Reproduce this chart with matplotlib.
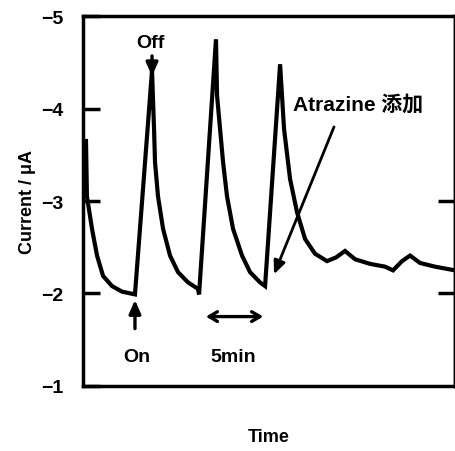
import matplotlib
matplotlib.use('Agg')
import matplotlib.pyplot as plt

# Datos (tiempo en min, corriente en uA)
tiempo = [0.25, 0.33, 0.75, 1.17, 1.67, 2.42, 3.25, 4.33,
          5.75, 5.92, 6.0, 6.25, 6.67, 7.25, 7.92, 8.75, 9.58, 9.67,
          11.08, 11.17, 11.67, 12.0, 12.5, 13.25, 13.92, 14.75, 15.17,
          16.42, 16.75, 17.25, 17.83, 18.5, 19.33, 20.33, 21.08, 21.83,
          22.67, 23.92, 25.17, 25.83, 26.58, 27.25, 28.08, 29.33, 31.0]
corriente = [-3.65, -3.05, -2.70, -2.41, -2.19, -2.08, -2.02, -1.99,
             -4.41, -3.78, -3.42, -3.05, -2.70, -2.41, -2.23, -2.12, -2.05, -1.99,
             -4.75, -4.14, -3.42, -3.05, -2.70, -2.41, -2.23, -2.12, -2.08,
             -4.48, -3.78, -3.24, -2.88, -2.59, -2.43, -2.35, -2.39, -2.46,
             -2.37, -2.32, -2.29, -2.25, -2.35, -2.41, -2.33, -2.29, -2.25]

yticks = [-5, -4, -3, -2, -1]

plt.rcParams['font.family'] = ['Liberation Sans', 'Noto Sans CJK JP', 'DejaVu Sans']
plt.rcParams['font.weight'] = 'bold'
plt.rcParams['axes.labelweight'] = 'bold'

fig = plt.figure(figsize=(4.56, 4.52), dpi=100)
ax = fig.add_axes([0.182, 0.144, 0.816, 0.818])

ax.plot(tiempo, corriente, 'k-', lw=3.0, solid_joinstyle='miter')

ax.set_xlim(0, 31)
ax.set_ylim(-1, -5)
ax.set_xticks([])
ax.set_yticks(yticks)
ax.tick_params(axis='y', direction='in', length=12, width=2.5, pad=14, labelsize=14)
for s in ax.spines.values():
    s.set_linewidth(2.5)

# ticks del lado derecho
sec = ax.secondary_yaxis('right')
sec.set_yticks([-3, -2])
sec.tick_params(direction='in', length=12, width=2.5, labelright=False)
sec.spines['right'].set_linewidth(2.5)

ax.set_ylabel('Current / μA', fontsize=13, labelpad=4)
ax.set_xlabel('Time', fontsize=13, labelpad=30)

flecha = dict(arrowstyle='-|>,head_length=0.8,head_width=0.35', color='k', lw=2.4)
ax.annotate('', xy=(5.75, -4.32), xytext=(5.75, -4.6), arrowprops=flecha)
ax.text(5.6, -4.71, 'Off', fontsize=14, ha='center', va='center')

ax.annotate('', xy=(4.33, -1.96), xytext=(4.33, -1.59), arrowprops=flecha)
ax.text(4.5, -1.32, 'On', fontsize=14, ha='center', va='center')

ax.annotate('', xy=(10.0, -1.75), xytext=(15.25, -1.75),
            arrowprops=dict(arrowstyle='<->,head_length=0.6,head_width=0.35', color='k', lw=2.4))
ax.text(12.5, -1.32, '5min', fontsize=14, ha='center', va='center')

ax.annotate('', xy=(15.83, -2.18), xytext=(21.0, -3.83),
            arrowprops=dict(arrowstyle='-|>,head_length=0.8,head_width=0.35', color='k', lw=2.0))
ax.text(17.5, -4.05, 'Atrazine 添加', fontsize=15, ha='left', va='center')

plt.savefig('out.png', dpi=100)
